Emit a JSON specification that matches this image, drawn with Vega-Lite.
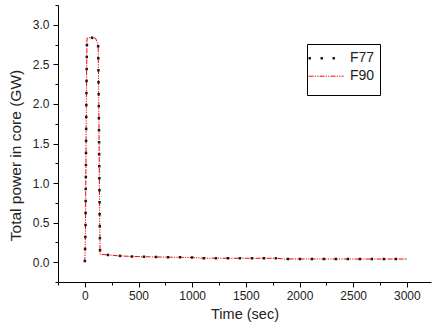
{
  "$schema": "https://vega.github.io/schema/vega-lite/v6.json",
  "autosize": "none",
  "width": 373,
  "height": 277,
  "padding": {"left": 58, "top": 5, "right": 2, "bottom": 52},
  "background": "white",
  "config": {
    "view": {"stroke": null},
    "font": "Liberation Sans",
    "axis": {
      "domainColor": "#000",
      "domainWidth": 1,
      "tickColor": "#000",
      "grid": false,
      "labelFont": "Liberation Sans",
      "labelFontSize": 12,
      "labelColor": "#222",
      "titleFont": "Liberation Sans",
      "titleFontSize": 14.5,
      "titleFontWeight": "normal",
      "titleColor": "#222"
    },
    "legend": {
      "labelFont": "Liberation Sans",
      "labelFontSize": 14,
      "labelColor": "#222"
    }
  },
  "data": {
    "values": [
      {"series": "F90", "t": 0, "p": 0},
      {"series": "F90", "t": 6, "p": 0.4},
      {"series": "F90", "t": 14, "p": 2.0},
      {"series": "F90", "t": 20, "p": 2.83},
      {"series": "F90", "t": 50, "p": 2.84},
      {"series": "F90", "t": 100, "p": 2.83},
      {"series": "F90", "t": 124, "p": 2.75},
      {"series": "F90", "t": 130, "p": 2.0},
      {"series": "F90", "t": 138, "p": 0.6},
      {"series": "F90", "t": 142, "p": 0.1},
      {"series": "F90", "t": 217, "p": 0.092},
      {"series": "F90", "t": 300, "p": 0.082},
      {"series": "F90", "t": 434, "p": 0.073},
      {"series": "F90", "t": 600, "p": 0.068},
      {"series": "F90", "t": 800, "p": 0.063},
      {"series": "F90", "t": 1000, "p": 0.06},
      {"series": "F90", "t": 1100, "p": 0.051},
      {"series": "F90", "t": 1500, "p": 0.05},
      {"series": "F90", "t": 1780, "p": 0.05},
      {"series": "F90", "t": 1850, "p": 0.041},
      {"series": "F90", "t": 2500, "p": 0.04},
      {"series": "F90", "t": 3000, "p": 0.04},
      {"series": "F77", "t": 0, "p": 0},
      {"series": "F77", "t": 6, "p": 0.4},
      {"series": "F77", "t": 14, "p": 2.0},
      {"series": "F77", "t": 20, "p": 2.83},
      {"series": "F77", "t": 50, "p": 2.84},
      {"series": "F77", "t": 100, "p": 2.83},
      {"series": "F77", "t": 124, "p": 2.75},
      {"series": "F77", "t": 130, "p": 2.0},
      {"series": "F77", "t": 138, "p": 0.6},
      {"series": "F77", "t": 142, "p": 0.1},
      {"series": "F77", "t": 217, "p": 0.092},
      {"series": "F77", "t": 300, "p": 0.082},
      {"series": "F77", "t": 434, "p": 0.073},
      {"series": "F77", "t": 600, "p": 0.068},
      {"series": "F77", "t": 800, "p": 0.063},
      {"series": "F77", "t": 1000, "p": 0.06},
      {"series": "F77", "t": 1100, "p": 0.051},
      {"series": "F77", "t": 1500, "p": 0.05},
      {"series": "F77", "t": 1780, "p": 0.05},
      {"series": "F77", "t": 1850, "p": 0.041},
      {"series": "F77", "t": 2500, "p": 0.04},
      {"series": "F77", "t": 3000, "p": 0.04}
    ]
  },
  "mark": {"type": "line", "clip": true},
  "encoding": {
    "x": {
      "field": "t",
      "type": "quantitative",
      "scale": {"domain": [-250, 3225], "nice": false, "zero": false},
      "axis": {
        "title": "Time (sec)",
        "values": [-250, 0, 250, 500, 750, 1000, 1250, 1500, 1750, 2000, 2250, 2500, 2750, 3000],
        "labelExpr": "datum.value % 500 === 0 ? datum.label : ''",
        "format": "d",
        "tickSize": {"condition": {"test": "datum.value % 500 === 0", "value": 5}, "value": 3},
        "labelPadding": 3,
        "titlePadding": 6,
        "labelFlush": false,
        "labelOverlap": false
      }
    },
    "y": {
      "field": "p",
      "type": "quantitative",
      "scale": {"domain": [-0.25, 3.25], "nice": false, "zero": false},
      "axis": {
        "title": "Total power in core (GW)",
        "titleFontSize": 15.5,
        "titleY": 150,
        "values": [-0.25, 0, 0.25, 0.5, 0.75, 1, 1.25, 1.5, 1.75, 2, 2.25, 2.5, 2.75, 3, 3.25],
        "labelExpr": "datum.value % 0.5 === 0 ? format(datum.value, '.1f') : ''",
        "tickSize": {"condition": {"test": "datum.value % 0.5 === 0", "value": 5}, "value": 3},
        "labelPadding": 4,
        "titlePadding": 9,
        "labelFlush": false,
        "labelOverlap": false
      }
    },
    "color": {
      "field": "series",
      "type": "nominal",
      "sort": ["F77", "F90"],
      "scale": {"domain": ["F77", "F90"], "range": ["#1a1a1a", "#ff0000"]},
      "legend": {
        "title": " ",
        "titleOrient": "bottom",
        "titleFontSize": 7,
        "titlePadding": 0,
        "orient": "none",
        "legendX": 249,
        "legendY": 39,
        "strokeColor": "#000",
        "fillColor": "white",
        "padding": 5,
        "symbolType": "M-2.5,0.1H2.5",
        "symbolSize": 196,
        "symbolOffset": 5.5,
        "labelOffset": 15.5,
        "rowPadding": 3,
        "encode": {
          "symbols": {
            "update": {
              "strokeWidth": {"signal": "datum.value === 'F90' ? 1.3 : 2.5"},
              "stroke": {"signal": "datum.value === 'F90' ? '#ff0000' : '#1a1a1a'"},
              "fill": {"value": "transparent"},
              "opacity": {"value": 1},
              "strokeOpacity": {"value": 1}
            }
          }
        }
      }
    },
    "strokeDash": {
      "field": "series",
      "type": "nominal",
      "sort": ["F77", "F90"],
      "scale": {"domain": ["F77", "F90"], "range": [[2.5, 9.5], [5, 1.2, 1.2, 1.2, 1.2, 1.2]]}
    },
    "strokeWidth": {
      "field": "series",
      "type": "nominal",
      "sort": ["F77", "F90"],
      "scale": {"domain": ["F77", "F90"], "range": [2.5, 1]},
      "legend": null
    },
    "order": {"field": "series", "sort": "descending"}
  }
}
